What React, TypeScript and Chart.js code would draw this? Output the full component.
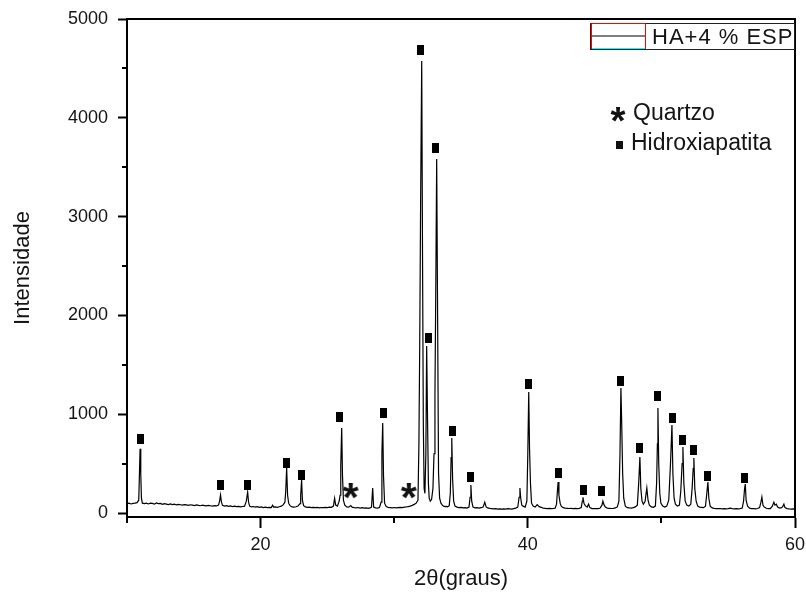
import React, { useEffect, useRef } from 'react';
import { Chart, registerables } from 'chart.js';

Chart.register(...registerables);

// ---------- data ----------
const twoTheta = [
  10.0, 10.15, 10.3, 10.45, 10.6, 10.75, 10.88, 10.93, 10.98, 11.03, 11.08, 11.15, 11.3, 11.45, 11.6, 11.75, 11.9, 12.05, 12.2, 12.35,
  12.5, 12.65, 12.8, 12.95, 13.1, 13.25, 13.4, 13.55, 13.7, 13.85, 14.0, 14.15, 14.3, 14.45, 14.6, 14.75, 14.9, 15.05, 15.2, 15.35,
  15.5, 15.65, 15.8, 15.95, 16.1, 16.25, 16.4, 16.55, 16.7, 16.85, 16.93, 17.0, 17.07, 17.15, 17.3, 17.45, 17.6, 17.75, 17.9, 18.05,
  18.2, 18.35, 18.5, 18.65, 18.8, 18.93, 19.03, 19.1, 19.18, 19.3, 19.45, 19.6, 19.75, 19.9, 20.05, 20.2, 20.35, 20.5, 20.65, 20.8,
  20.9, 20.98, 21.1, 21.25, 21.4, 21.55, 21.7, 21.82, 21.88, 21.95, 22.02, 22.1, 22.2, 22.35, 22.5, 22.65, 22.8, 22.95, 23.0, 23.07,
  23.13, 23.22, 23.35, 23.5, 23.65, 23.8, 23.95, 24.1, 24.25, 24.4, 24.55, 24.7, 24.85, 25.0, 25.15, 25.3, 25.45, 25.54, 25.62, 25.75,
  25.88, 25.95, 26.0, 26.07, 26.13, 26.2, 26.3, 26.45, 26.6, 26.75, 26.85, 27.0, 27.15, 27.3, 27.45, 27.6, 27.75, 27.9, 28.05, 28.2,
  28.3, 28.39, 28.46, 28.6, 28.75, 28.9, 29.02, 29.08, 29.14, 29.2, 29.28, 29.4, 29.55, 29.7, 29.85, 30.0, 30.15, 30.3, 30.45, 30.6,
  30.75, 30.9, 31.05, 31.2, 31.35, 31.5, 31.65, 31.78, 31.85, 31.91, 31.98, 32.06, 32.12, 32.18, 32.24, 32.3, 32.37, 32.43, 32.5, 32.56,
  32.62, 32.7, 32.8, 32.9, 32.98, 33.05, 33.12, 33.18, 33.25, 33.32, 33.4, 33.5, 33.6, 33.7, 33.8, 33.9, 34.0, 34.12, 34.2, 34.26,
  34.31, 34.37, 34.45, 34.55, 34.7, 34.85, 35.0, 35.15, 35.3, 35.45, 35.6, 35.68, 35.74, 35.8, 35.9, 36.05, 36.2, 36.35, 36.5, 36.65,
  36.78, 36.88, 37.0, 37.15, 37.3, 37.45, 37.6, 37.75, 37.9, 38.05, 38.2, 38.35, 38.5, 38.65, 38.8, 38.95, 39.1, 39.25, 39.35, 39.41,
  39.47, 39.55, 39.65, 39.8, 39.93, 40.0, 40.07, 40.13, 40.2, 40.28, 40.4, 40.55, 40.7, 40.85, 41.0, 41.15, 41.3, 41.45, 41.6, 41.75,
  41.9, 42.05, 42.15, 42.22, 42.27, 42.33, 42.42, 42.5, 42.65, 42.8, 42.95, 43.1, 43.25, 43.4, 43.55, 43.7, 43.85, 44.0, 44.08, 44.13,
  44.2, 44.3, 44.45, 44.55, 44.65, 44.8, 44.95, 45.1, 45.25, 45.4, 45.55, 45.62, 45.7, 45.8, 45.95, 46.1, 46.25, 46.4, 46.55, 46.7,
  46.82, 46.9, 46.97, 47.03, 47.1, 47.18, 47.3, 47.45, 47.6, 47.75, 47.9, 48.05, 48.2, 48.3, 48.39, 48.46, 48.55, 48.65, 48.78, 48.91,
  49.0, 49.1, 49.25, 49.4, 49.55, 49.64, 49.7, 49.74, 49.8, 49.88, 49.96, 50.1, 50.25, 50.4, 50.55, 50.68, 50.79, 50.86, 50.95, 51.05,
  51.2, 51.35, 51.45, 51.55, 51.61, 51.68, 51.78, 51.9, 52.05, 52.2, 52.3, 52.38, 52.43, 52.5, 52.6, 52.72, 52.85, 53.0, 53.15, 53.3,
  53.4, 53.48, 53.55, 53.65, 53.8, 53.95, 54.1, 54.25, 54.4, 54.55, 54.7, 54.85, 55.0, 55.15, 55.3, 55.45, 55.6, 55.75, 55.9, 56.05,
  56.15, 56.22, 56.28, 56.34, 56.45, 56.6, 56.75, 56.9, 57.05, 57.2, 57.35, 57.45, 57.52, 57.6, 57.7, 57.85, 58.0, 58.15, 58.3, 58.42,
  58.5, 58.6, 58.7, 58.85, 59.0, 59.1, 59.17, 59.25, 59.4, 59.55, 59.7, 59.85, 60.0,
];

const intensity = [
  95, 100, 92, 98, 100, 105, 130, 390, 650, 400, 150, 100, 95, 100, 92, 100, 98, 90, 102, 95,
  97, 88, 95, 90, 85, 92, 86, 90, 82, 88, 84, 80, 86, 82, 78, 84, 80, 76, 82, 78,
  74, 80, 76, 72, 78, 74, 70, 75, 72, 80, 120, 182, 110, 78, 70, 74, 68, 72, 66, 70,
  65, 68, 62, 66, 70, 120, 213, 110, 70, 62, 66, 60, 64, 58, 62, 56, 60, 55, 58, 55,
  80, 60, 62, 58, 64, 70, 85, 110, 220, 455, 180, 100, 75, 62, 60, 64, 72, 95, 180, 334,
  130, 75, 62, 58, 60, 55, 58, 54, 57, 52, 56, 54, 58, 55, 60, 58, 70, 150, 80, 70,
  120, 180, 480, 860, 380, 130, 80, 62, 60, 75, 60, 55, 52, 56, 50, 54, 50, 52, 48, 52,
  60, 253, 60, 52, 50, 56, 110, 600, 911, 380, 100, 65, 58, 55, 52, 56, 52, 55, 58, 55,
  60, 62, 65, 70, 78, 88, 100, 130, 700, 1700, 3200, 4575, 2600, 900, 250, 200, 600, 1690, 890, 300,
  150, 120, 140, 250, 600, 1200, 2400, 3583, 1950, 400, 150, 100, 80, 70, 65, 68, 62, 75, 200, 560,
  760, 350, 120, 70, 60, 55, 58, 52, 55, 50, 60, 160, 283, 120, 60, 52, 55, 50, 54, 60,
  110, 62, 52, 48, 45, 42, 45, 40, 43, 40, 42, 40, 44, 42, 40, 45, 50, 60, 160, 253,
  150, 80, 70, 60, 120, 600, 1225, 650, 300, 100, 70, 60, 85, 65, 58, 50, 48, 45, 48, 44,
  46, 50, 90, 230, 314, 180, 100, 70, 55, 50, 48, 46, 48, 45, 47, 44, 48, 55, 120, 160,
  100, 75, 60, 90, 55, 45, 44, 46, 45, 48, 80, 121, 85, 60, 50, 48, 46, 48, 52, 62,
  120, 600, 1265, 900, 400, 150, 70, 55, 52, 50, 55, 62, 80, 300, 567, 250, 120, 90, 120, 253,
  130, 80, 62, 58, 70, 300, 700, 1063, 500, 200, 100, 70, 60, 70, 130, 500, 890, 400, 150, 90,
  70, 80, 220, 500, 668, 300, 120, 80, 70, 90, 250, 450, 557, 250, 120, 70, 60, 58, 55, 70,
  200, 314, 150, 70, 52, 48, 45, 44, 46, 42, 45, 42, 44, 50, 45, 42, 44, 42, 45, 50,
  120, 240, 294, 130, 70, 50, 45, 44, 42, 46, 55, 110, 162, 80, 60, 48, 44, 45, 70, 110,
  80, 90, 60, 50, 55, 70, 90, 55, 45, 42, 40, 42, 40,
];

// Hydroxyapatite peak markers (square)
const hapTheta = [11.01, 17.0, 19.03, 21.95, 23.07, 25.92, 29.2, 31.98, 32.58, 33.11, 34.38, 35.73, 40.07, 42.32, 44.17, 45.54, 46.97, 48.39, 49.74, 50.86, 51.61, 52.43, 53.48, 56.25];
const hapMarkY = [749, 283, 283, 506, 385, 972, 1012, 4686, 1771, 3694, 830, 364, 1306, 405, 233, 223, 1336, 658, 1184, 962, 739, 638, 374, 354];

// Quartz markers (asterisk)
const quartzTheta = [26.74, 31.09];
const quartzMarkY = [223, 223];

const xMin = 10;
const xMax = 60;
const yMin = -40;
const yMax = 5000;
const xMajorTicks = [20, 40, 60];
const xMinorTicks = [10, 30, 50];
const yMajorTicks = [0, 1000, 2000, 3000, 4000, 5000];
const yMinorTicks = [500, 1500, 2500, 3500, 4500];

const seriesLabel = 'HA+4 % ESP';
const xTitle = '2θ(graus)';
const yTitle = 'Intensidade';
const quartzLabel = 'Quartzo';
const hapLabel = 'Hidroxiapatita';

const FONT = 'Arial, "Liberation Sans", sans-serif';
const TEXT = '#141414';

function makeSquare(w: number, h: number) {
  const c = document.createElement('canvas');
  c.width = w;
  c.height = h;
  const g = c.getContext('2d')!;
  g.fillStyle = '#000';
  g.fillRect(0, 0, w, h);
  return c;
}

function drawAsterisk(g: CanvasRenderingContext2D, cx: number, cy: number, targetW: number) {
  g.save();
  g.font = `bold 100px ${FONT}`;
  const m0 = g.measureText('*');
  const w0 = m0.actualBoundingBoxRight + m0.actualBoundingBoxLeft;
  const size = (100 * targetW) / (w0 || 39);
  g.font = `bold ${size}px ${FONT}`;
  const m = g.measureText('*');
  g.textAlign = 'left';
  g.textBaseline = 'alphabetic';
  const x = cx - (m.actualBoundingBoxRight - m.actualBoundingBoxLeft) / 2;
  const y = cy + (m.actualBoundingBoxAscent - m.actualBoundingBoxDescent) / 2;
  g.fillText('*', x, y);
  g.restore();
}

function makeStar(w: number, h: number) {
  const c = document.createElement('canvas');
  c.width = w;
  c.height = h;
  const g = c.getContext('2d')!;
  g.fillStyle = '#111';
  drawAsterisk(g, w / 2, h / 2, w - 2);
  return c;
}

const decorPlugin = {
  id: 'decor',
  afterDraw(chart: any) {
    const { ctx, chartArea: ca, scales } = chart;
    const x = scales.x;
    const y = scales.y;
    ctx.save();
    // frame top/right
    ctx.strokeStyle = '#000';
    ctx.lineWidth = 2;
    ctx.beginPath();
    ctx.moveTo(ca.left - 1, ca.top);
    ctx.lineTo(ca.right, ca.top);
    ctx.lineTo(ca.right, ca.bottom + 1);
    ctx.stroke();
    // minor ticks
    ctx.beginPath();
    xMinorTicks.forEach((v) => {
      const px = Math.round(x.getPixelForValue(v));
      ctx.moveTo(px, ca.bottom);
      ctx.lineTo(px, ca.bottom + 6);
    });
    yMinorTicks.forEach((v) => {
      const py = Math.round(y.getPixelForValue(v));
      ctx.moveTo(ca.left, py);
      ctx.lineTo(ca.left - 5, py);
    });
    ctx.stroke();

    // legend box
    const bx0 = ca.right - 205;
    const by0 = ca.top + 4;
    const by1 = ca.top + 30;
    ctx.fillStyle = '#fff';
    ctx.fillRect(bx0, by0, ca.right - bx0, by1 - by0);
    ctx.lineWidth = 1;
    ctx.strokeStyle = '#222';
    ctx.strokeRect(bx0 + 0.5, by0 + 0.5, ca.right - bx0 - 1, by1 - by0);
    // red sample frame
    ctx.strokeStyle = '#ff0000';
    ctx.beginPath();
    ctx.moveTo(bx0 + 1.5, by1);
    ctx.lineTo(bx0 + 1.5, by0 + 0.5);
    ctx.lineTo(bx0 + 55.5, by0 + 0.5);
    ctx.lineTo(bx0 + 55.5, by1);
    ctx.stroke();
    ctx.strokeStyle = '#00ffff';
    ctx.beginPath();
    ctx.moveTo(bx0 + 2, by1 - 0.5);
    ctx.lineTo(bx0 + 55, by1 - 0.5);
    ctx.stroke();
    ctx.strokeStyle = '#000';
    ctx.lineWidth = 1.2;
    ctx.beginPath();
    ctx.moveTo(bx0 + 2, by0 + 13);
    ctx.lineTo(bx0 + 55, by0 + 13);
    ctx.stroke();
    ctx.fillStyle = TEXT;
    ctx.font = `22px ${FONT}`;
    ctx.textAlign = 'left';
    ctx.textBaseline = 'alphabetic';
    (ctx as any).letterSpacing = '1px';
    ctx.fillText(seriesLabel, bx0 + 62, by0 + 21);
    (ctx as any).letterSpacing = '0px';

    // annotation labels
    const ax = ca.right - 175;
    ctx.fillStyle = '#111';
    drawAsterisk(ctx, ax - 2, ca.top + 95, 15);
    ctx.fillRect(ax - 4, ca.top + 122, 7, 8);
    ctx.fillStyle = TEXT;
    ctx.font = `23px ${FONT}`;
    ctx.fillText(quartzLabel, ax + 13, ca.top + 101);
    ctx.fillText(hapLabel, ax + 11, ca.top + 131);
    ctx.restore();
  },
};

export default function App() {
  const ref = useRef<HTMLCanvasElement | null>(null);

  useEffect(() => {
    if (!ref.current) return;
    const square = makeSquare(7, 10);
    const star = makeStar(18, 16);
    const chart = new Chart(ref.current, {
      type: 'line',
      data: {
        datasets: [
          {
            label: seriesLabel,
            data: twoTheta.map((t, i) => ({ x: t, y: intensity[i] })),
            borderColor: '#000',
            borderWidth: 1.2,
            pointRadius: 0,
            tension: 0,
            fill: false,
          },
          {
            type: 'scatter',
            label: hapLabel,
            data: hapTheta.map((t, i) => ({ x: t, y: hapMarkY[i] })),
            pointStyle: square as any,
            pointRadius: 5,
            showLine: false,
          } as any,
          {
            type: 'scatter',
            label: quartzLabel,
            data: quartzTheta.map((t, i) => ({ x: t, y: quartzMarkY[i] })),
            pointStyle: star as any,
            pointRadius: 8,
            showLine: false,
          } as any,
        ],
      },
      options: {
        animation: false,
        responsive: false,
        maintainAspectRatio: false,
        layout: { padding: { left: 0, top: 19, right: 11, bottom: 0 } },
        plugins: {
          legend: { display: false },
          tooltip: { enabled: false },
        },
        scales: {
          x: {
            type: 'linear',
            min: xMin,
            max: xMax,
            afterBuildTicks: (s: any) => {
              s.ticks = xMajorTicks.map((v) => ({ value: v }));
            },
            afterFit: (s: any) => {
              s.height = 78;
              s.paddingLeft = 0;
              s.paddingRight = 0;
            },
            grid: {
              drawOnChartArea: false,
              drawTicks: true,
              tickLength: 11,
              tickWidth: 2,
              tickColor: '#000',
            },
            border: { display: true, color: '#000', width: 2 },
            ticks: {
              autoSkip: false,
              maxRotation: 0,
              padding: 6,
              color: TEXT,
              font: { family: FONT, size: 18 },
              callback: (v: any) => String(v),
            },
            title: {
              display: true,
              text: xTitle,
              color: TEXT,
              font: { family: FONT, size: 22 },
              padding: { top: 0, bottom: 3 },
            },
          },
          y: {
            type: 'linear',
            min: yMin,
            max: yMax,
            afterBuildTicks: (s: any) => {
              s.ticks = yMajorTicks.map((v) => ({ value: v }));
            },
            afterFit: (s: any) => {
              s.width = 127;
              s.paddingTop = 0;
              s.paddingBottom = 0;
            },
            grid: {
              drawOnChartArea: false,
              drawTicks: true,
              tickLength: 9,
              tickWidth: 2,
              tickColor: '#000',
            },
            border: { display: true, color: '#000', width: 2 },
            ticks: {
              autoSkip: false,
              padding: 10,
              color: TEXT,
              font: { family: FONT, size: 18 },
              callback: (v: any) => String(v),
            },
            title: {
              display: true,
              text: yTitle,
              color: TEXT,
              font: { family: FONT, size: 22 },
              padding: { top: 10, bottom: 0 },
            },
          },
        },
      },
      plugins: [decorPlugin],
    });
    return () => chart.destroy();
  }, []);

  return (
    <div style={{ position: 'fixed', left: 0, top: 0, width: 806, height: 595, background: '#fff' }}>
      <canvas ref={ref} width={806} height={595} style={{ display: 'block', width: 806, height: 595 }} />
    </div>
  );
}
